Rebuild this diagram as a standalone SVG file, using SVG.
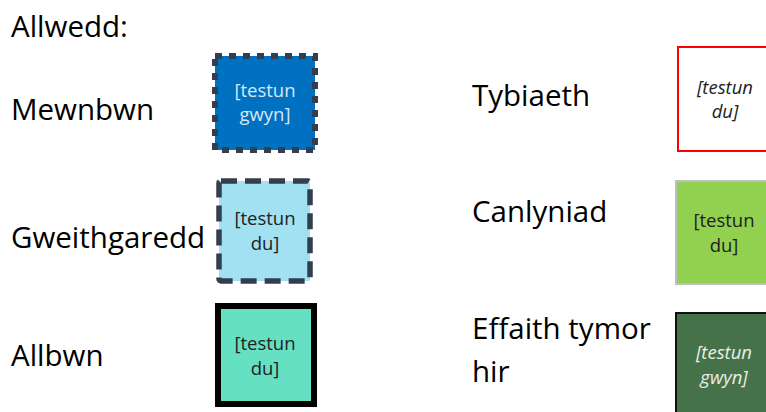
<svg xmlns="http://www.w3.org/2000/svg" width="766" height="412" viewBox="0 0 766 412">
<style>
.lbl{font-family:"Open Sans","Noto Sans",sans-serif;font-size:29.5px;fill:#000}
.bt{font-family:"Open Sans","Noto Sans",sans-serif;font-size:18.5px;text-anchor:middle}
.it{font-style:italic}
</style>
<rect width="766" height="412" fill="#fff"/>
<text class="lbl" x="11" y="37">Allwedd:</text>
<g id="mewnbwn">
<text class="lbl" x="11" y="120">Mewnbwn</text>
<rect x="215" y="56" width="100" height="94" fill="#0070C0" stroke="#333F50" stroke-width="6" stroke-dasharray="7 7"/>
<text class="bt" x="265" y="97" fill="#D9E6F5">[testun</text>
<text class="bt" x="265" y="121" fill="#D9E6F5">gwyn]</text>
</g>
<g id="gweithgaredd">
<text class="lbl" x="11" y="248">Gweithgaredd</text>
<rect x="219" y="181" width="91" height="100" rx="2" fill="#A1E1F1" stroke="#333F50" stroke-width="5.5" stroke-dasharray="16 8" stroke-linejoin="round"/>
<text class="bt" x="265" y="225" fill="#222">[testun</text>
<text class="bt" x="265" y="250" fill="#222">du]</text>
</g>
<g id="allbwn">
<text class="lbl" x="11" y="366">Allbwn</text>
<rect x="218" y="306" width="96" height="98" fill="#66E0C2" stroke="#000" stroke-width="6"/>
<text class="bt" x="265" y="350" fill="#222">[testun</text>
<text class="bt" x="265" y="375" fill="#222">du]</text>
</g>
<g id="tybiaeth">
<text class="lbl" x="472" y="106">Tybiaeth</text>
<rect x="678" y="47" width="96" height="104" fill="#fff" stroke="#FF0000" stroke-width="2"/>
<text class="bt it" x="725" y="94" fill="#222">[testun</text>
<text class="bt it" x="725" y="118" fill="#222">du]</text>
</g>
<g id="canlyniad">
<text class="lbl" x="472" y="222">Canlyniad</text>
<rect x="676" y="181" width="96" height="103" fill="#92D050" stroke="#BFBFBF" stroke-width="2"/>
<text class="bt" x="724" y="227" fill="#222">[testun</text>
<text class="bt" x="724" y="252" fill="#222">du]</text>
</g>
<g id="effaith">
<text class="lbl" x="472" y="339">Effaith tymor</text>
<text class="lbl" x="472" y="382">hir</text>
<rect x="676" y="313" width="96" height="104" fill="#467249" stroke="#111" stroke-width="2"/>
<text class="bt it" x="724" y="359" fill="#E8EEE8">[testun</text>
<text class="bt it" x="724" y="384" fill="#E8EEE8">gwyn]</text>
</g>
<g id="connectors"></g>
</svg>
